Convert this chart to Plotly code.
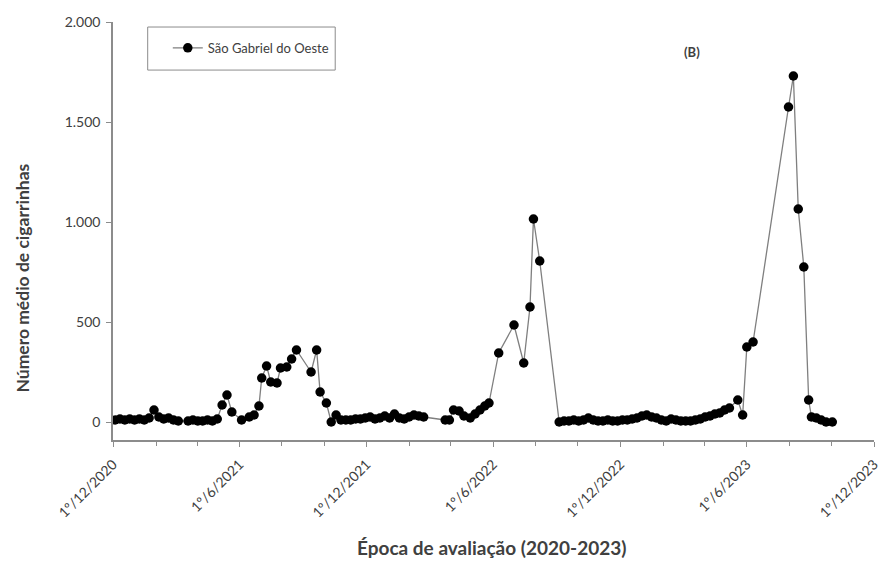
import plotly.graph_objects as go

series_name = "São Gabriel do Oeste"

dates = [
    "2020-12-04", "2020-12-11", "2020-12-18", "2020-12-25", "2021-01-01", "2021-01-08",
    "2021-01-15", "2021-01-22", "2021-01-29", "2021-02-05", "2021-02-12", "2021-02-19",
    "2021-02-26", "2021-03-05",
    "2021-03-19", "2021-03-26", "2021-04-02", "2021-04-09", "2021-04-16", "2021-04-23",
    "2021-04-30", "2021-05-07", "2021-05-14", "2021-05-21", "2021-06-04", "2021-06-15",
    "2021-06-22", "2021-06-29", "2021-07-03", "2021-07-10", "2021-07-16", "2021-07-25",
    "2021-07-30", "2021-08-08", "2021-08-15", "2021-08-22", "2021-09-12", "2021-09-20",
    "2021-09-25", "2021-10-04", "2021-10-11", "2021-10-18", "2021-10-25",
    "2021-11-01", "2021-11-08", "2021-11-15", "2021-11-22", "2021-11-29", "2021-12-06",
    "2021-12-13", "2021-12-20", "2021-12-27", "2022-01-03", "2022-01-10", "2022-01-17",
    "2022-01-24", "2022-01-31", "2022-02-07", "2022-02-14", "2022-02-21",
    "2022-03-24", "2022-03-30", "2022-04-05", "2022-04-13", "2022-04-20", "2022-04-29",
    "2022-05-06", "2022-05-13", "2022-05-20", "2022-05-26", "2022-06-09", "2022-07-01",
    "2022-07-15", "2022-07-24", "2022-07-29", "2022-08-07", "2022-09-04",
    "2022-09-11", "2022-09-18", "2022-09-25", "2022-10-02", "2022-10-09", "2022-10-16",
    "2022-10-23", "2022-10-30", "2022-11-06", "2022-11-13", "2022-11-20", "2022-11-27",
    "2022-12-04", "2022-12-11", "2022-12-18", "2022-12-25", "2023-01-01", "2023-01-08",
    "2023-01-15", "2023-01-22", "2023-01-29", "2023-02-05", "2023-02-12", "2023-02-19",
    "2023-02-26", "2023-03-05", "2023-03-12", "2023-03-19", "2023-03-26", "2023-04-02",
    "2023-04-09", "2023-04-16", "2023-04-23", "2023-04-30", "2023-05-07",
    "2023-05-19", "2023-05-26", "2023-06-01", "2023-06-10", "2023-07-31", "2023-08-07",
    "2023-08-14", "2023-08-22", "2023-08-29", "2023-09-02", "2023-09-09", "2023-09-16",
    "2023-09-23", "2023-10-02",
]

values = [
    10, 15, 10, 15, 10, 15,
    10, 20, 60, 25, 15, 20,
    10, 5,
    5, 10, 5, 5, 10, 5,
    15, 85, 135, 50, 10, 25,
    35, 80, 220, 280, 200, 195,
    270, 275, 315, 360, 250, 360,
    150, 95, 0, 35, 10,
    10, 10, 15, 15, 20, 25,
    15, 20, 30, 20, 40, 20,
    15, 25, 35, 30, 25,
    10, 10, 60, 55, 30, 20,
    40, 60, 80, 95, 345, 485,
    295, 575, 1015, 805, 0,
    5, 5, 10, 5, 10, 20,
    10, 5, 5, 10, 5, 5,
    10, 10, 15, 20, 30, 35,
    25, 20, 10, 5, 15, 10,
    5, 5, 5, 10, 15, 25,
    30, 40, 45, 60, 70,
    110, 35, 375, 400, 1575, 1730,
    1065, 775, 110, 25, 20, 10,
    0, 0,
]

tick_dates = ["2020-12-01", "2021-06-01", "2021-12-01", "2022-06-01",
              "2022-12-01", "2023-06-01", "2023-12-01"]
tick_labels = ["1º/12/2020", "1º/6/2021", "1º/12/2021", "1º/6/2022",
               "1º/12/2022", "1º/6/2023", "1º/12/2023"]

y_ticks = [0, 500, 1000, 1500, 2000]

FONT = "Lato"
AX = "#8c8c8c"
TXT = "#404040"

fig = go.Figure()
fig.add_trace(go.Scatter(
    x=dates, y=values, mode="lines+markers", name=series_name,
    line=dict(color="#7f7f7f", width=1.3),
    marker=dict(color="black", size=9.5, symbol="circle"),
))

fig.update_layout(
    width=893, height=569,
    margin=dict(l=113, r=13, t=22, b=129),
    plot_bgcolor="white", paper_bgcolor="white",
    separators=",.",
    font=dict(family=FONT, size=12, color=TXT),
    showlegend=True,
    legend=dict(
        x=0.072, y=0.938, xanchor="left", yanchor="middle",
        borderwidth=0, bgcolor="rgba(0,0,0,0)",
        font=dict(family=FONT, size=13, color=TXT),
    ),
    xaxis=dict(
        type="date",
        range=["2020-12-01", "2023-12-01"],
        tickvals=tick_dates, ticktext=tick_labels,
        tickangle=-45,
        ticklabelstandoff=4,
        ticks="outside", ticklen=5, tickcolor=AX,
        minor=dict(dtick="M2", tick0="2020-12-01", ticks="outside", ticklen=4, tickcolor=AX),
        showline=True, linecolor=AX, linewidth=1.5,
        showgrid=False, zeroline=False,
        tickfont=dict(family=FONT, size=14, color=TXT),
    ),
    yaxis=dict(
        range=[-90, 2000],
        tickvals=y_ticks, tickformat=",d",
        ticks="outside", ticklen=5, tickcolor=AX,
        ticklabelstandoff=3,
        showline=True, linecolor=AX, linewidth=1.5,
        showgrid=False, zeroline=False,
        tickfont=dict(family=FONT, size=14, color=TXT),
    ),
    shapes=[
        dict(type="rect", xref="paper", yref="paper",
             x0=0.0456, x1=0.292, y0=0.885, y1=0.988,
             line=dict(color="#8c8c8c", width=1), fillcolor="white", layer="below"),
    ],
    annotations=[
        dict(text="<b>(B)</b>", x=0.761, y=0.928, xref="paper", yref="paper",
             xanchor="center", yanchor="middle",
             showarrow=False, font=dict(family=FONT, size=13, color=TXT)),
        dict(text="<b>Número médio de cigarrinhas</b>", x=-0.1186, y=0.388,
             xref="paper", yref="paper", textangle=-90, showarrow=False,
             xanchor="center", yanchor="middle",
             font=dict(family=FONT, size=17.5, color=TXT)),
        dict(text="<b>Época de avaliação (2020-2023)</b>", x=0.498, y=-0.258,
             xref="paper", yref="paper", showarrow=False,
             xanchor="center", yanchor="middle",
             font=dict(family=FONT, size=19, color=TXT)),
    ],
)

fig.write_html("out.html")
